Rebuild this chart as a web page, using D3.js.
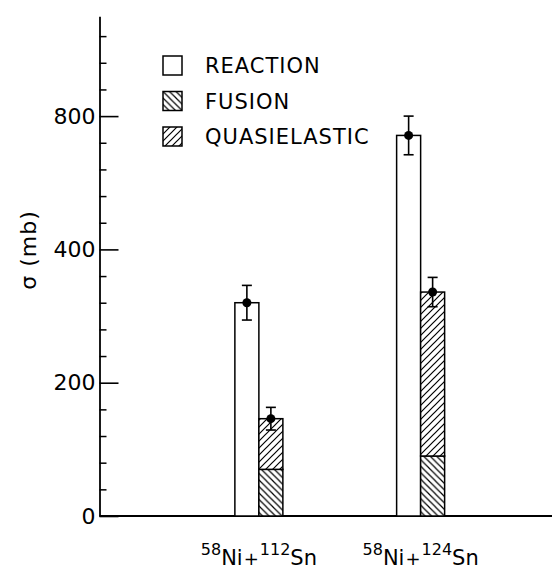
<!DOCTYPE html>
<html>
<head>
<meta charset="utf-8">
<script src="https://cdn.jsdelivr.net/npm/d3@7"></script>
<style>
  html, body { margin: 0; padding: 0; background: #fff; }
  svg { display: block; }
  text { font-family: "DejaVu Sans", sans-serif; fill: #000; }
</style>
</head>
<body>
<div id="chart"></div>
<script>
// Cross sections (mb) for the two systems
const projMass = ["58", "58"];
const projName = ["Ni", "Ni"];
const targMass = ["112", "124"];
const targName = ["Sn", "Sn"];
const systems = ["58Ni+112Sn", "58Ni+124Sn"];

const reaction = [320, 742];
const reactionErr = [26, 58];
const fusion = [70, 90];
const quasielastic = [76, 246];
const sumErr = [17, 22];

const legendLabels = ["REACTION", "FUSION", "QUASIELASTIC"];

const majorTicks = [0, 200, 400, 800];
const minorTicks = [40, 80, 120, 160, 240, 280, 320, 360, 480, 560, 640, 720, 880, 960, 1040];

const W = 552, H = 571;
const svg = d3.select("#chart").append("svg")
  .attr("width", W).attr("height", H);

// Axis geometry
const axisX = 99.5, baseY = 516, k = 133.3 / 200, yMax = 1100;

// Vertical scale: the upper part (above 400) is compressed by half
const y = d3.scaleLinear()
  .domain([0, 400, yMax])
  .range([baseY, baseY - 400 * k, baseY - 400 * k - (yMax - 400) * k / 2]);

const x = d3.scalePoint().domain(systems).range([178, 501.5]).padding(0.5);
const barW = 24;

// Hatch patterns
const defs = svg.append("defs");
function hatch(id, dir, s) {
  const p = defs.append("pattern").attr("id", id)
    .attr("patternUnits", "userSpaceOnUse")
    .attr("width", s).attr("height", s);
  p.append("rect").attr("width", s).attr("height", s).attr("fill", "#fff");
  const d = dir === "/"
    ? `M0,${s} L${s},0 M${-1},1 L1,${-1} M${s - 1},${s + 1} L${s + 1},${s - 1}`
    : `M0,0 L${s},${s} M${-1},${s - 1} L1,${s + 1} M${s - 1},${-1} L${s + 1},1`;
  p.append("path").attr("d", d).attr("stroke", "#000")
    .attr("stroke-width", 1.2).attr("fill", "none");
}
hatch("fusionHatch", "\\", 6.5);
hatch("qeHatch", "/", 7);

const fills = ["#fff", "url(#fusionHatch)", "url(#qeHatch)"];

// Y axis: major ticks inward with labels
const yMajor = d3.axisLeft(y).tickValues(majorTicks)
  .tickSizeInner(-19).tickSizeOuter(0).tickPadding(4)
  .tickFormat(d3.format("d"));
const gMaj = svg.append("g").attr("transform", `translate(${axisX},0)`).call(yMajor);
gMaj.select(".domain").attr("stroke", "#000").attr("stroke-width", 1.8);
gMaj.selectAll(".tick line").attr("stroke", "#000").attr("stroke-width", 1.6);
gMaj.selectAll(".tick text")
  .style("font-family", "'DejaVu Sans', sans-serif")
  .style("font-size", "22px").attr("fill", "#000");

const yMinor = d3.axisLeft(y).tickValues(minorTicks)
  .tickSizeInner(-7).tickSizeOuter(0).tickFormat("");
const gMin = svg.append("g").attr("transform", `translate(${axisX},0)`).call(yMinor);
gMin.select(".domain").remove();
gMin.selectAll(".tick line").attr("stroke", "#000").attr("stroke-width", 1.5);

// X baseline
svg.append("line")
  .attr("x1", axisX).attr("x2", W)
  .attr("y1", y(0)).attr("y2", y(0))
  .attr("stroke", "#000").attr("stroke-width", 1.8);

// Y title
svg.append("text")
  .attr("transform", `translate(36,${y(0) - 266}) rotate(-90)`)
  .attr("text-anchor", "middle")
  .style("font-size", "22px")
  .style("letter-spacing", "1px")
  .text("σ (mb)");

// Bars
const barStyle = sel => sel.attr("stroke", "#000").attr("stroke-width", 1.5);

svg.append("g").selectAll("rect").data(systems).join("rect")
  .attr("x", d => x(d) - barW).attr("width", barW)
  .attr("y", (d, i) => y(reaction[i]))
  .attr("height", (d, i) => y(0) - y(reaction[i]))
  .attr("fill", fills[0]).call(barStyle);

svg.append("g").selectAll("rect").data(systems).join("rect")
  .attr("x", d => x(d)).attr("width", barW)
  .attr("y", (d, i) => y(fusion[i]))
  .attr("height", (d, i) => y(0) - y(fusion[i]))
  .attr("fill", fills[1]).call(barStyle);

svg.append("g").selectAll("rect").data(systems).join("rect")
  .attr("x", d => x(d)).attr("width", barW)
  .attr("y", (d, i) => y(fusion[i] + quasielastic[i]))
  .attr("height", (d, i) => y(fusion[i]) - y(fusion[i] + quasielastic[i]))
  .attr("fill", fills[2]).call(barStyle);

// Error bars with data points
const errData = [];
systems.forEach((s, i) => {
  errData.push({ cx: x(s) - barW / 2, v: reaction[i], e: reactionErr[i] });
  errData.push({ cx: x(s) + barW / 2, v: fusion[i] + quasielastic[i], e: sumErr[i] });
});
const eg = svg.append("g").selectAll("g").data(errData).join("g");
eg.append("line")
  .attr("x1", d => d.cx).attr("x2", d => d.cx)
  .attr("y1", d => y(d.v + d.e)).attr("y2", d => y(d.v - d.e))
  .attr("stroke", "#000").attr("stroke-width", 1.6);
eg.selectAll(".cap").data(d => [d.v + d.e, d.v - d.e].map(v => ({ cx: d.cx, v })))
  .join("line").attr("class", "cap")
  .attr("x1", d => d.cx - 5).attr("x2", d => d.cx + 5)
  .attr("y1", d => y(d.v)).attr("y2", d => y(d.v))
  .attr("stroke", "#000").attr("stroke-width", 1.6);
eg.append("circle")
  .attr("cx", d => d.cx).attr("cy", d => y(d.v)).attr("r", 4.5)
  .attr("fill", "#000");

// Legend
const legend = svg.append("g").attr("transform", "translate(163,56)");
const li = legend.selectAll("g").data(legendLabels).join("g")
  .attr("transform", (d, i) => `translate(0,${i * 35.5})`);
li.append("rect").attr("width", 19).attr("height", 19)
  .attr("fill", (d, i) => fills[i]).call(barStyle);
li.append("text").attr("x", 42).attr("y", 17)
  .style("font-size", "21px").style("letter-spacing", "1px")
  .text(d => d);

// Category labels with mass-number superscripts
const xl = svg.append("g").selectAll("text").data(systems).join("text")
  .attr("x", d => x(d)).attr("y", 565)
  .attr("text-anchor", "middle")
  .style("font-size", "21px");
xl.each(function (d, i) {
  const t = d3.select(this);
  t.append("tspan").style("font-size", "16px").attr("dy", -10).text(projMass[i]);
  t.append("tspan").attr("dy", 10).text(projName[i]);
  t.append("tspan").style("font-size", "18px").attr("dx", 1).text("+");
  t.append("tspan").style("font-size", "16px").attr("dy", -10).attr("dx", 1).text(targMass[i]);
  t.append("tspan").attr("dy", 10).text(targName[i]);
});
</script>
</body>
</html>
